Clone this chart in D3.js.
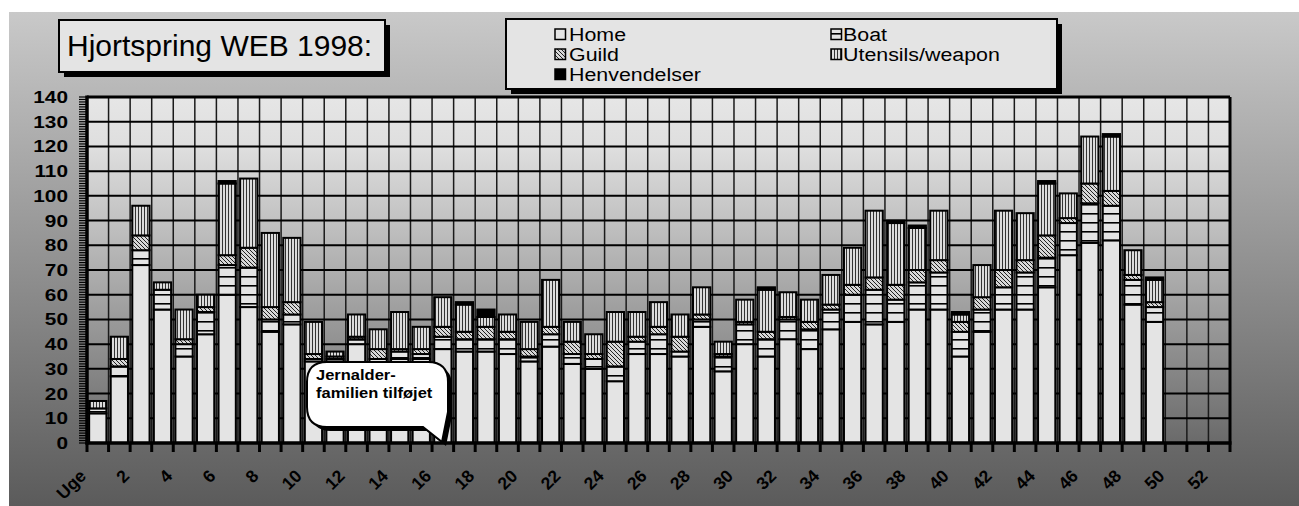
<!DOCTYPE html>
<html>
<head>
<meta charset="utf-8">
<script src="https://cdn.jsdelivr.net/npm/d3@7/dist/d3.min.js"></script>
<style>
  html, body { margin: 0; padding: 0; background: #ffffff; }
  svg { display: block; }
  text { font-family: "Liberation Sans", Arial, sans-serif; }
</style>
</head>
<body>
<svg id="chart" width="1299" height="506"></svg>
<script>
// ---------- DATA ----------
const categories = ["1","2","3","4","5","6","7","8","9","10","11","12","13","14","15","16","17","18","19","20",
  "21","22","23","24","25","26","27","28","29","30","31","32","33","34","35","36","37","38","39","40",
  "41","42","43","44","45","46","47","48","49","50","51","52","53"];
const dataWeeks = categories.slice(0, 50);
const home      = [12,27,72,54,35,44,60,55,45,48,33,33,40,32,34,34,38,37,37,36,33,39,32,30,25,36,36,35,47,29,40,35,42,38,46,49,48,49,54,54,35,45,54,54,63,76,81,82,56,49];
const boat      = [2,4,6,8,5,9,12,16,5,4,1,1,2,2,3,2,5,5,5,6,2,5,4,4,6,5,8,2,3,6,8,7,8,8,8,11,14,9,11,15,10,9,9,15,12,13,16,14,10,6];
const guild     = [0,3,6,0,2,2,4,8,5,5,2,1,1,4,1,2,4,3,5,3,3,3,5,2,10,2,3,6,2,1,1,3,1,3,2,4,5,6,5,5,4,5,7,5,9,2,8,6,2,2];
const utensils  = [3,9,12,3,12,5,29,28,30,26,13,2,9,8,15,9,12,11,4,7,11,19,8,8,12,10,10,9,11,5,9,17,10,9,12,15,27,25,17,20,3,13,24,19,21,10,19,22,10,9];
const henv      = [0,0,0,0,0,0,1,0,0,0,0,0,0,0,0,0,0,1,3,0,0,0,0,0,0,0,0,0,0,0,0,1,0,0,0,0,0,1,1,0,1,0,0,0,1,0,0,1,0,1];
const seriesNames = ["Home","Boat","Guild","Utensils/weapon","Henvendelser"];
const yTicks = [0,10,20,30,40,50,60,70,80,90,100,110,120,130,140];
const xTickLabels = ["2","4","6","8","10","12","14","16","18","20","22","24","26","28","30","32","34","36","38","40","42","44","46","48","50","52"];
const axisWord = "Uge";
const titleText = "Hjortspring WEB 1998:";
const noteLines = ["Jernalder-", "familien tilføjet"];

// ---------- SETUP ----------
const svg = d3.select("#chart");
const defs = svg.append("defs");

const bgGrad = defs.append("linearGradient").attr("id","bgGrad").attr("x1",0).attr("y1",0).attr("x2",0).attr("y2",1);
bgGrad.append("stop").attr("offset","0%").attr("stop-color","#c9c9c9");
bgGrad.append("stop").attr("offset","100%").attr("stop-color","#5b5b5b");

const plotGrad = defs.append("linearGradient").attr("id","plotGrad").attr("x1",0).attr("y1",0).attr("x2",0).attr("y2",1);
plotGrad.append("stop").attr("offset","0%").attr("stop-color","#e6e6e6");
plotGrad.append("stop").attr("offset","15%").attr("stop-color","#dedede");
plotGrad.append("stop").attr("offset","100%").attr("stop-color","#6a6a6a");

const light = "#e4e4e4";
// patterns
const pBoat = defs.append("pattern").attr("id","pBoat").attr("patternUnits","userSpaceOnUse").attr("width",8).attr("height",9);
pBoat.append("rect").attr("width",8).attr("height",9).attr("fill",light);
pBoat.append("rect").attr("x",0).attr("y",6).attr("width",8).attr("height",1.6).attr("fill","#000");

const pGuild = defs.append("pattern").attr("id","pGuild").attr("patternUnits","userSpaceOnUse").attr("width",4).attr("height",4);
pGuild.append("rect").attr("width",4).attr("height",4).attr("fill","#d8d8d8");
pGuild.append("path").attr("d","M-1,-1 L5,5 M-1,3 L1,5 M3,-1 L5,1").attr("stroke","#222").attr("stroke-width",1);

const pUt = defs.append("pattern").attr("id","pUt").attr("patternUnits","userSpaceOnUse").attr("width",3).attr("height",3);
pUt.append("rect").attr("width",3).attr("height",3).attr("fill","#dcdcdc");
pUt.append("rect").attr("x",0).attr("y",0).attr("width",1).attr("height",3).attr("fill","#333");

const fills = [light, "url(#pBoat)", "url(#pGuild)", "url(#pUt)", "#000"];

// background
svg.append("rect").attr("x",9).attr("y",12).attr("width",1290).attr("height",494).attr("fill","url(#bgGrad)");

// scales
const x0 = 87, x1 = 1230, yTop = 97, yBot = 443;
const x = d3.scaleBand().domain(categories).range([x0, x1]).paddingInner(0.2).paddingOuter(0.1);
const y = d3.scaleLinear().domain([0, 140]).range([yBot, yTop]);
const step = x.step();

// plot area
svg.append("rect").attr("x",x0).attr("y",yTop).attr("width",x1-x0).attr("height",yBot-yTop).attr("fill","url(#plotGrad)");

// vertical grid lines at category boundaries
const bounds = d3.range(categories.length + 1).map(i => x0 + i * step);
svg.append("g").selectAll("line").data(bounds).join("line")
  .attr("x1",d=>d).attr("x2",d=>d).attr("y1",yTop).attr("y2",yBot)
  .attr("stroke","#1a1a1a").attr("stroke-width",1.5);
// horizontal grid lines
svg.append("g").selectAll("line").data(yTicks).join("line")
  .attr("x1",x0).attr("x2",x1).attr("y1",d=>y(d)).attr("y2",d=>y(d))
  .attr("stroke","#000").attr("stroke-width",2);
// plot border top & right
svg.append("line").attr("x1",x0).attr("x2",x1).attr("y1",yTop).attr("y2",yTop).attr("stroke","#000").attr("stroke-width",3);
svg.append("line").attr("x1",x1).attr("x2",x1).attr("y1",yTop).attr("y2",yBot).attr("stroke","#000").attr("stroke-width",3);

// ---------- BARS ----------
const rows = dataWeeks.map((w,i) => ({week:w, Home:home[i], Boat:boat[i], Guild:guild[i], "Utensils/weapon":utensils[i], Henvendelser:henv[i]}));
const stacked = d3.stack().keys(seriesNames)(rows);
const gBars = svg.append("g");
stacked.forEach((layer, li) => {
  gBars.append("g").selectAll("rect").data(layer.filter(d => d[1] - d[0] > 0)).join("rect")
    .attr("x", d => x(d.data.week))
    .attr("width", x.bandwidth())
    .attr("y", d => y(d[1]))
    .attr("height", d => y(d[0]) - y(d[1]))
    .attr("fill", fills[li])
    .attr("stroke", "#000")
    .attr("stroke-width", 2);
});

// ---------- AXES ----------
// y axis minor comb
const gy = svg.append("g");
gy.selectAll("line").data(y.ticks(140)).join("line")
  .attr("x1",79).attr("x2",x0).attr("y1",d=>y(d)).attr("y2",d=>y(d))
  .attr("stroke","#000").attr("stroke-width",1.2);
gy.append("line").attr("x1",x0).attr("x2",x0).attr("y1",yTop-1.5).attr("y2",yBot+1.5).attr("stroke","#000").attr("stroke-width",3.5);
gy.selectAll("text").data(yTicks).join("text")
  .attr("transform", d => `translate(68,${y(d)+6}) scale(1.3,1)`)
  .attr("text-anchor","end")
  .attr("font-size",16).attr("font-weight","bold").attr("fill","#000")
  .text(d => d);

// x axis
const gx = svg.append("g");
gx.append("line").attr("x1",x0-1.5).attr("x2",x1+1.5).attr("y1",yBot).attr("y2",yBot).attr("stroke","#000").attr("stroke-width",3.5);
gx.selectAll("line.t").data(bounds).join("line").attr("class","t")
  .attr("x1",d=>d).attr("x2",d=>d).attr("y1",yBot).attr("y2",yBot+9)
  .attr("stroke","#000").attr("stroke-width",3);
const xLabelData = [{pos: x0 - step/2, t: axisWord}].concat(
  xTickLabels.map(l => ({pos: x(l) + x.bandwidth()/2, t: l})));
gx.selectAll("text").data(xLabelData).join("text")
  .attr("transform", d => `translate(${d.pos + 11},477) rotate(-45)`)
  .attr("text-anchor","end")
  .attr("font-size",17.5).attr("font-weight","bold").attr("fill","#000")
  .text(d => d.t);

// ---------- TITLE ----------
svg.append("rect").attr("x",64).attr("y",25).attr("width",326).attr("height",52).attr("fill","#000");
svg.append("rect").attr("x",59).attr("y",20).attr("width",326).attr("height",52).attr("fill",light).attr("stroke","#000").attr("stroke-width",2);
svg.append("text").attr("x",67).attr("y",56).attr("font-size",30).attr("fill","#000").text(titleText);

// ---------- LEGEND ----------
svg.append("rect").attr("x",511).attr("y",24).attr("width",551).attr("height",70).attr("fill","#000");
svg.append("rect").attr("x",506).attr("y",19).attr("width",551).attr("height",70).attr("fill",light).attr("stroke","#000").attr("stroke-width",2);
const legendPos = [
  {sx:555, sy:29, tx:569, ty:40.5},
  {sx:831, sy:29, tx:843, ty:40.5},
  {sx:555, sy:49, tx:569, ty:60.5},
  {sx:831, sy:49, tx:843, ty:60.5},
  {sx:555, sy:69, tx:569, ty:80.5}
];
const gLeg = svg.append("g");
seriesNames.forEach((name, i) => {
  const p = legendPos[i];
  gLeg.append("rect").attr("x",p.sx).attr("y",p.sy).attr("width",10.5).attr("height",10.5)
    .attr("fill", fills[i]).attr("stroke","#000").attr("stroke-width",1.5);
  gLeg.append("text").attr("transform",`translate(${p.tx},${p.ty}) scale(1.15,1)`)
    .attr("font-size",18.6).attr("fill","#000").text(name);
});

// ---------- CALLOUT ----------
const bubble = "M327,362 H428 Q448,362 448,382 V412 L442,442 L423,427 H327 Q307,427 307,407 V382 Q307,362 327,362 Z";
svg.append("path").attr("d",bubble).attr("transform","translate(4,4)").attr("fill","#000");
svg.append("path").attr("d",bubble).attr("fill","#fff").attr("stroke","#000").attr("stroke-width",2);
svg.append("g").selectAll("text").data(noteLines).join("text")
  .attr("transform",(d,i)=>`translate(316,${380 + i*17.5}) scale(1.1,1)`)
  .attr("font-size",15).attr("font-weight","bold").attr("fill","#000")
  .text(d => d);
</script>
</body>
</html>
